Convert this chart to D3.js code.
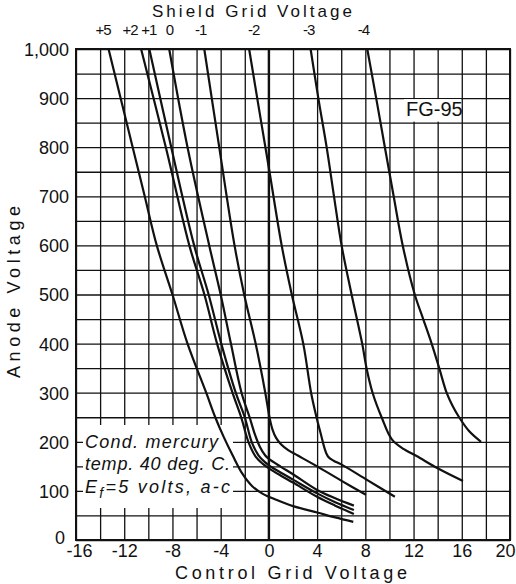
<!DOCTYPE html>
<html lang="en">
<head>
<meta charset="utf-8">
<title>FG-95 control characteristic</title>
<script src="https://d3js.org/d3.v7.min.js"></script>
<style>
  body { margin: 0; background: #fff; }
  text { font-family: "Liberation Sans", Arial, sans-serif; fill: #111; }
</style>
</head>
<body>
<div id="chart"></div>
<script>
// tick labels
const xTicks = [-16, -12, -8, -4, 0, 4, 8, 12, 16, 20]
const yTicks = [0, 100, 200, 300, 400, 500, 600, 700, 800, 900, 1000]
const yTickLabels = ['0', '100', '200', '300', '400', '500', '600', '700', '800', '900', '1,000']

// shield grid voltage labels along the top, and where they sit on the control grid axis
const shieldVolts = ['+5', '+2', '+1', '0', '-1', '-2', '-3', '-4']
const shieldLabelX = [-13.8, -11.55, -10.0, -8.3, -5.7, -1.3, 3.25, 7.8]

// curves: [control grid volts, anode volts]
const curveP5 = [[-13.3, 1000], [-11.3, 800], [-10.3, 700], [-9.3, 600], [-8.0, 500], [-6.75, 400], [-5.2, 300],
  [-4.45, 250], [-3.75, 210], [-3.0, 172], [-2.2, 135], [-1.4, 110], [-0.5, 94], [0.6, 82], [2, 69], [4, 56], [5.5, 46], [7, 37]]
const curveP2 = [[-10.6, 1000], [-8.55, 800], [-6.6, 600], [-5.35, 500], [-4.3, 400], [-3.02, 300], [-2.3, 250],
  [-1.7, 200], [-1.1, 170], [-0.5, 155], [0, 146], [1, 131], [2, 117], [4, 88], [5.5, 70], [7.05, 53]]
const curveP1 = [[-9.92, 1000], [-8.1, 800], [-6.2, 600], [-5.0, 500], [-3.95, 400], [-2.75, 300], [-2.0, 250],
  [-1.43, 200], [-0.85, 172], [-0.3, 158], [0, 152], [1, 137], [2, 123], [4, 95], [5.5, 77], [7.05, 61]]
const curve0 = [[-8.27, 1000], [-6.75, 800], [-4.95, 600], [-4.0, 500], [-3.15, 400], [-2.27, 300], [-1.6, 250],
  [-1.16, 215], [-0.75, 190], [-0.3, 172], [0, 165], [1, 149], [2, 134], [4, 102], [5.5, 85], [7.05, 70]]
const curveM1 = [[-5.36, 1000], [-4.12, 800], [-2.85, 600], [-2.05, 500], [-1.1, 400], [-0.3, 300], [0.05, 250],
  [0.3, 225], [0.6, 208], [1.0, 195], [1.6, 183], [2.4, 172], [4, 150], [6, 121], [8.05, 92]]
const curveM2 = [[-1.64, 1000], [-0.8, 875], [0.05, 750], [1.06, 600], [1.9, 500], [2.85, 400], [3.5, 300], [3.95, 250],
  [4.35, 212], [4.6, 188], [4.9, 170], [5.4, 161], [6, 154], [8.1, 123], [10.45, 88]]
const curveM3 = [[3.46, 1000], [4.1, 900], [4.79, 800], [5.4, 700], [6.03, 600], [6.86, 500], [7.74, 400], [8.1, 350],
  [8.6, 300], [9.35, 250], [10.2, 205], [11.2, 185], [12.25, 171], [14, 146], [16.1, 120]]
const curveM4 = [[8.16, 1000], [8.9, 900], [9.62, 800], [10.35, 700], [11.1, 600], [12.1, 500], [12.8, 450], [13.5, 400],
  [14.13, 350], [14.74, 300], [15.2, 275], [15.78, 250], [16.6, 222], [17.6, 200]]
const curves = [curveP5, curveP2, curveP1, curve0, curveM1, curveM2, curveM3, curveM4]

const width = 516
const height = 584
const ink = '#111'

const svg = d3.select('#chart').append('svg')
    .attr('width', width)
    .attr('height', height)

const x = d3.scaleLinear().domain([-16, 20]).range([76, 510])
const y = d3.scaleLinear().domain([0, 1000]).range([540, 49])
const plotH = y(0) - y(1000)
const plotW = x(20) - x(-16)

// grid
const gx = svg.append('g')
    .attr('transform', `translate(0,${y(0)})`)
    .call(d3.axisBottom(x).tickValues(d3.range(-16, 21, 2)).tickSize(-plotH).tickFormat(''))
const gy = svg.append('g')
    .attr('transform', `translate(${x(-16)},0)`)
    .call(d3.axisLeft(y).tickValues(d3.range(0, 1001, 50)).tickSize(-plotW).tickFormat(''))
for (const g of [gx, gy]) {
    g.select('.domain').remove()
    g.selectAll('line').attr('stroke', ink).attr('stroke-width', 1.3)
}

// heavier zero line
svg.append('line')
    .attr('x1', x(0)).attr('x2', x(0))
    .attr('y1', y(0)).attr('y2', y(1000))
    .attr('stroke', ink).attr('stroke-width', 2.4)

// white patches behind the notes
svg.append('rect')
    .attr('x', 83).attr('y', 425).attr('width', 150).attr('height', 83)
    .attr('fill', '#fff')
svg.append('rect')
    .attr('x', 404).attr('y', y(900) + 1).attr('width', 57).attr('height', y(850) - y(900) - 2)
    .attr('fill', '#fff')

// curves
const line = d3.line()
    .x(d => x(d[0]))
    .y(d => y(d[1]))
    .curve(d3.curveCatmullRom.alpha(0.5))

svg.append('g')
    .selectAll('path')
    .data(curves)
    .join('path')
    .attr('d', line)
    .attr('fill', 'none')
    .attr('stroke', ink)
    .attr('stroke-width', 2.2)

// frame
svg.append('rect')
    .attr('x', x(-16)).attr('y', y(1000))
    .attr('width', plotW).attr('height', plotH)
    .attr('fill', 'none').attr('stroke', ink).attr('stroke-width', 2)

// tick labels
const xAxis = svg.append('g')
    .attr('transform', `translate(0,${y(0)})`)
    .call(d3.axisBottom(x).tickValues(xTicks).tickSize(0).tickFormat(d => d))
xAxis.selectAll('text').attr('y', 17).attr('dy', null)
// end labels sit against the corner and the right edge
xAxis.selectAll('text').filter(d => d === -16).attr('text-anchor', 'start').attr('x', -10)
xAxis.selectAll('text').filter(d => d === 20).attr('text-anchor', 'end').attr('x', 5)

const yAxis = svg.append('g')
    .attr('transform', `translate(${x(-16)},0)`)
    .call(d3.axisLeft(y).tickValues(yTicks).tickSize(0).tickPadding(7)
        .tickFormat((d, i) => yTickLabels[i]))
yAxis.selectAll('text').attr('dy', '0.36em')
yAxis.selectAll('text').filter(d => d === 0).attr('x', -11).attr('dy', '0.2em')

const topAxis = svg.append('g')
    .attr('transform', `translate(0,${y(1000)})`)
    .call(d3.axisTop(x).tickValues(shieldLabelX).tickSize(0)
        .tickFormat((d, i) => shieldVolts[i]))
topAxis.selectAll('text').attr('y', -14).attr('dy', null)
    .attr('letter-spacing', '-1px').style('font-size', '15px')

for (const g of [xAxis, yAxis, topAxis]) {
    g.select('.domain').remove()
    g.selectAll('text').attr('fill', ink).style('font-family', '"Liberation Sans", Arial, sans-serif')
}
xAxis.selectAll('text').style('font-size', '18px')
yAxis.selectAll('text').style('font-size', '18px')

// titles
svg.append('text')
    .attr('x', 152).attr('y', 17)
    .attr('textLength', 200).attr('lengthAdjust', 'spacing')
    .style('font-size', '17px')
    .text('Shield Grid Voltage')

svg.append('text')
    .attr('x', 175).attr('y', 579)
    .attr('textLength', 232).attr('lengthAdjust', 'spacing')
    .style('font-size', '18px')
    .text('Control Grid Voltage')

svg.append('text')
    .attr('transform', 'translate(20,378) rotate(-90)')
    .attr('textLength', 172).attr('lengthAdjust', 'spacing')
    .style('font-size', '18px')
    .text('Anode Voltage')

svg.append('text')
    .attr('x', 406).attr('y', 116)
    .style('font-size', '20px')
    .text('FG-95')

// notes
const note = svg.append('g').style('font-size', '18px').style('font-style', 'italic')
note.append('text').attr('x', 85).attr('y', 448)
    .attr('textLength', 133).attr('lengthAdjust', 'spacing')
    .text('Cond. mercury')
note.append('text').attr('x', 85).attr('y', 470)
    .attr('textLength', 145).attr('lengthAdjust', 'spacing')
    .text('temp. 40 deg. C.')
const ef = note.append('text').attr('x', 85).attr('y', 493)
    .attr('textLength', 145).attr('lengthAdjust', 'spacing')
ef.append('tspan').text('E')
ef.append('tspan').attr('dy', 5).style('font-size', '14px').text('f')
ef.append('tspan').attr('dy', -5).text('=5 volts, a-c')
</script>
</body>
</html>
